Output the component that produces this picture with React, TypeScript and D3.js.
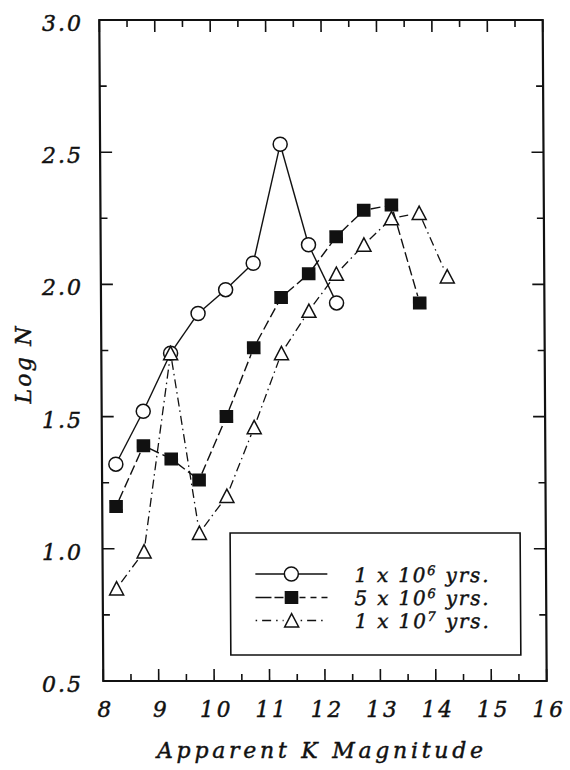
import React from 'react';
import * as d3 from 'd3';

// Apparent K magnitude bin centres
const magnitudes = [8.25, 8.75, 9.25, 9.75, 10.25, 10.75, 11.25, 11.75, 12.25, 12.75, 13.25, 13.75, 14.25];
// Log N for each age
const logN_1e6 = [1.32, 1.52, 1.74, 1.89, 1.98, 2.08, 2.53, 2.15, 1.93];
const logN_5e6 = [1.16, 1.39, 1.34, 1.26, 1.50, 1.76, 1.95, 2.04, 2.18, 2.28, 2.30, 1.93];
const logN_1e7 = [0.85, 0.99, 1.74, 1.06, 1.20, 1.46, 1.74, 1.90, 2.04, 2.15, 2.25, 2.27, 2.03];

const xTicks = [8, 9, 10, 11, 12, 13, 14, 15, 16];
const xTickLabels = ['8', '9', '10', '11', '12', '13', '14', '15', '16'];
const yTicks = [0.5, 1.0, 1.5, 2.0, 2.5, 3.0];
const yTickLabels = ['0.5', '1.0', '1.5', '2.0', '2.5', '3.0'];
const seriesMantissa = ['1', '5', '1'];
const seriesExponent = ['6', '6', '7'];

const FONT = '"DejaVu Serif", serif';
const INK = '#111';
const TXT = { fontFamily: FONT, fontStyle: 'italic', fill: INK, stroke: INK, strokeWidth: 0.45 } as const;

type Pt = [number, number];

function shortened(pts: Pt[], gap: number): Pt[][] {
  const out: Pt[][] = [];
  for (let i = 1; i < pts.length; i++) {
    const a = pts[i - 1];
    const b = pts[i];
    const dx = b[0] - a[0];
    const dy = b[1] - a[1];
    const L = Math.hypot(dx, dy);
    const ux = dx / L;
    const uy = dy / L;
    out.push([
      [a[0] + ux * gap, a[1] + uy * gap],
      [b[0] - ux * gap, b[1] - uy * gap],
    ]);
  }
  return out;
}

function Circle({ cx, cy }: { cx: number; cy: number }) {
  return <circle cx={cx} cy={cy} r={7} fill="#fff" stroke={INK} strokeWidth={1.5} />;
}
function Square({ cx, cy }: { cx: number; cy: number }) {
  return <rect x={cx - 6.8} y={cy - 6.5} width={13.6} height={13} fill={INK} />;
}
function Triangle({ cx, cy }: { cx: number; cy: number }) {
  const d = `M${cx},${cy - 6.8}L${cx + 7},${cy + 6.5}L${cx - 7},${cy + 6.5}Z`;
  return <path d={d} fill="#fff" stroke={INK} strokeWidth={1.5} strokeLinejoin="miter" />;
}

export default function App() {
  const x = d3.scaleLinear().domain([8, 16]).range([103.3, 546.7]);
  const y = d3.scaleLinear().domain([0.5, 3.0]).range([681, 20]);
  const line = d3.line<Pt>();

  const pts1: Pt[] = logN_1e6.map((v, i) => [x(magnitudes[i]), y(v)]);
  const pts2: Pt[] = logN_5e6.map((v, i) => [x(magnitudes[i]), y(v)]);
  const pts3: Pt[] = logN_1e7.map((v, i) => [x(magnitudes[i]), y(v)]);

  const t = 4 / 661;
  const skew = `translate(${-681 * t},0) skewX(${(Math.atan(t) * 180) / Math.PI})`;

  const xMinor = d3.range(8.5, 16, 1);
  const yMinor = d3.range(0.75, 3.0, 0.5);
  const [x0, x1] = x.range();
  const [yb, yt] = y.range();
  const MAJ = 12;
  const MIN = 7;

  const legendLineY = [574, 597.5, 620.5];
  const legendBase = [581.7, 605, 628.3];

  return (
    <svg width={570} height={770} style={{ position: 'absolute', left: 0, top: 0, background: '#fff' }}>
      <rect x={0} y={0} width={570} height={770} fill="#fff" />
      <g transform={skew}>
        {/* ticks */}
        {xTicks.map((v) => (
          <g key={'xt' + v}>
            <line x1={x(v)} x2={x(v)} y1={yb} y2={yb - MAJ} stroke={INK} strokeWidth={1.6} />
            <line x1={x(v)} x2={x(v)} y1={yt} y2={yt + MAJ} stroke={INK} strokeWidth={1.6} />
          </g>
        ))}
        {xMinor.map((v) => (
          <g key={'xm' + v}>
            <line x1={x(v)} x2={x(v)} y1={yb} y2={yb - MIN} stroke={INK} strokeWidth={1.6} />
            <line x1={x(v)} x2={x(v)} y1={yt} y2={yt + MIN} stroke={INK} strokeWidth={1.6} />
          </g>
        ))}
        {yTicks.map((v) => (
          <g key={'yt' + v}>
            <line x1={x0} x2={x0 + MAJ} y1={y(v)} y2={y(v)} stroke={INK} strokeWidth={1.6} />
            <line x1={x1} x2={x1 - MAJ} y1={y(v)} y2={y(v)} stroke={INK} strokeWidth={1.6} />
          </g>
        ))}
        {yMinor.map((v) => (
          <g key={'ym' + v}>
            <line x1={x0} x2={x0 + MIN} y1={y(v)} y2={y(v)} stroke={INK} strokeWidth={1.6} />
            <line x1={x1} x2={x1 - MIN} y1={y(v)} y2={y(v)} stroke={INK} strokeWidth={1.6} />
          </g>
        ))}
        <rect x={x0} y={yt} width={x1 - x0} height={yb - yt} fill="none" stroke={INK} strokeWidth={2.2} />

        {/* series lines */}
        {shortened(pts1, 7).map((s, i) => (
          <path key={'l1' + i} d={line(s) || ''} fill="none" stroke={INK} strokeWidth={1.4} />
        ))}
        {shortened(pts2, 7).map((s, i) => (
          <path key={'l2' + i} d={line(s) || ''} fill="none" stroke={INK} strokeWidth={1.4} strokeDasharray="10,4" />
        ))}
        {shortened(pts3, 8).map((s, i) => (
          <path key={'l3' + i} d={line(s) || ''} fill="none" stroke={INK} strokeWidth={1.3} strokeDasharray="9,4,1.5,4" />
        ))}

        {/* markers */}
        {pts1.map((p, i) => <Circle key={'c' + i} cx={p[0]} cy={p[1]} />)}
        {pts2.map((p, i) => <Square key={'s' + i} cx={p[0]} cy={p[1]} />)}
        {pts3.map((p, i) => <Triangle key={'t' + i} cx={p[0]} cy={p[1]} />)}

        {/* legend */}
        <rect x={231} y={533} width={290} height={122} fill="#fff" stroke={INK} strokeWidth={1.6} />
        <line x1={256} x2={285} y1={legendLineY[0]} y2={legendLineY[0]} stroke={INK} strokeWidth={1.4} />
        <line x1={299} x2={328} y1={legendLineY[0]} y2={legendLineY[0]} stroke={INK} strokeWidth={1.4} />
        <Circle cx={292} cy={legendLineY[0]} />
        <line x1={256} x2={284} y1={legendLineY[1]} y2={legendLineY[1]} stroke={INK} strokeWidth={1.4} strokeDasharray="16,3" />
        <line x1={300} x2={328} y1={legendLineY[1]} y2={legendLineY[1]} stroke={INK} strokeWidth={1.4} strokeDasharray="6,5" />
        <Square cx={292} cy={legendLineY[1]} />
        <line x1={256} x2={284} y1={legendLineY[2]} y2={legendLineY[2]} stroke={INK} strokeWidth={1.3} strokeDasharray="1.5,5,9,5" />
        <line x1={301} x2={328} y1={legendLineY[2]} y2={legendLineY[2]} stroke={INK} strokeWidth={1.3} strokeDasharray="1.5,5,9,5" />
        <Triangle cx={292} cy={legendLineY[2]} />
        {seriesMantissa.map((m, i) => (
          <text key={'lg' + i} x={355} y={legendBase[i]} {...TXT} fontSize={20} letterSpacing={1.8}>
            {m} x 10
            <tspan fontSize={13} dy={-7}>{seriesExponent[i]}</tspan>
            <tspan dy={7}> yrs.</tspan>
          </text>
        ))}
      </g>

      {/* tick labels */}
      {xTicks.map((v, i) => (
        <text key={'xl' + v} x={x(v) + 2.5} y={717} textAnchor="middle" {...TXT} fontSize={21.5} letterSpacing={3}>
          {xTickLabels[i]}
        </text>
      ))}
      {yTicks.map((v, i) => (
        <text key={'yl' + v} x={83} y={y(v) + 11} textAnchor="end" {...TXT} fontSize={22} letterSpacing={2}>
          {yTickLabels[i]}
        </text>
      ))}

      {/* axis titles */}
      <text x={157} y={758} {...TXT} fontSize={22} textLength={326} lengthAdjust="spacing">
        Apparent K Magnitude
      </text>
      <text transform="translate(31,365) rotate(-90)" textAnchor="middle" {...TXT} fontSize={22} textLength={77} lengthAdjust="spacing">
        Log N
      </text>
    </svg>
  );
}
